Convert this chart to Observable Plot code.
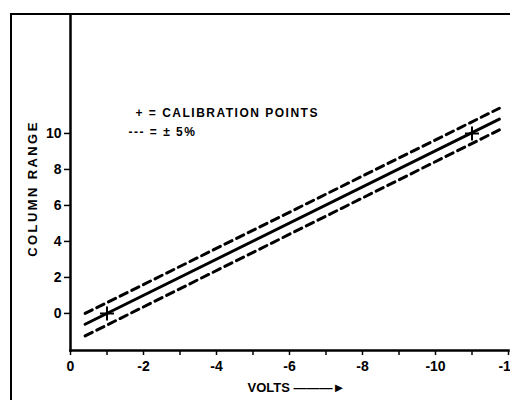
<!DOCTYPE html>
<html>
<head>
<meta charset="utf-8">
<script src="https://cdn.jsdelivr.net/npm/d3@7"></script>
<script src="https://cdn.jsdelivr.net/npm/@observablehq/plot@0.6"></script>
<style>
  html, body { margin: 0; padding: 0; background: white; }
  #wrap { position: relative; width: 510px; height: 400px; overflow: hidden; background: white; }
  #border { position: absolute; left: 10px; top: 13px; width: 600px; height: 500px;
            border-left: 2px solid black; border-top: 2.5px solid black; pointer-events: none; }
  #wrap svg { position: absolute; left: 0; top: 0; }
</style>
</head>
<body>
<div id="wrap"><div id="border"></div></div>
<script>
// Data
const volts = [-0.4, -11.75];          // x extent of the lines
const column = [-0.6, 10.8];           // nominal calibration line
const upper = [0.0, 11.4];             // +5% band
const lower = [-1.25, 10.2];           // -5% band
const calVolts = [-1, -11];            // calibration points
const calColumn = [0, 10];
const xTicks = [0, -1, -2, -3, -4, -5, -6, -7, -8, -9, -10, -11, -12];
const yTicks = [0, 2, 4, 6, 8, 10];
const legendCal = "+ = CALIBRATION POINTS";
const legendBand = "--- = ± 5%";
const yLabel = "COLUMN RANGE";
const xLabel = "VOLTS ———►";

const solid = volts.map((v, i) => ({v, c: column[i]}));
const up = volts.map((v, i) => ({v, c: upper[i]}));
const lo = volts.map((v, i) => ({v, c: lower[i]}));
const cal = calVolts.map((v, i) => ({v, c: calColumn[i]}));

const plusSymbol = {
  draw(context, size) {
    const r = Math.sqrt(size / Math.PI);
    context.moveTo(-r, 0); context.lineTo(r, 0);
    context.moveTo(0, -r); context.lineTo(0, r);
  }
};

const fmt = d => (d % 2 === 0) ? (d === 0 ? "0" : "-" + Math.abs(d)) : "";

const chart = Plot.plot({
  width: 510,
  height: 400,
  marginLeft: 70,
  marginRight: 2,
  marginTop: 14,
  marginBottom: 50,
  x: {domain: [0, -12]},
  y: {domain: [-2.06, 16.61]},
  style: {fontFamily: "'Liberation Sans', Arial, sans-serif", fontSize: "14px", fontWeight: "bold", color: "black", background: "transparent", overflow: "visible"},
  marks: [
    Plot.frame({anchor: "left", strokeWidth: 2.5}),
    Plot.frame({anchor: "bottom", strokeWidth: 2.5}),
    Plot.axisX({ticks: xTicks, tickSize: 5, tickPadding: 6, tickFormat: fmt, label: null, strokeWidth: 1.5}),
    Plot.axisY({ticks: yTicks, tickSize: 6, tickPadding: 3, tickFormat: d => String(d), label: null, strokeWidth: 1.5}),
    Plot.line(solid, {x: "v", y: "c", stroke: "black", strokeWidth: 3}),
    Plot.line(up, {x: "v", y: "c", stroke: "black", strokeWidth: 3, strokeDasharray: "8,5"}),
    Plot.line(lo, {x: "v", y: "c", stroke: "black", strokeWidth: 3, strokeDasharray: "8,5"}),
    Plot.dot(cal, {x: "v", y: "c", symbol: plusSymbol, r: 7, stroke: "black", strokeWidth: 2}),
    Plot.text([legendCal], {frameAnchor: "top-left", dx: 65, dy: 99, textAnchor: "start", lineAnchor: "middle", fontSize: 12, fontWeight: "bold"}),
    Plot.text([legendBand], {frameAnchor: "top-left", dx: 58, dy: 118, textAnchor: "start", lineAnchor: "middle", fontSize: 12, fontWeight: "bold"}),
    Plot.text([yLabel], {frameAnchor: "left", rotate: -90, dx: -38, dy: 6, textAnchor: "middle", lineAnchor: "middle", fontSize: 13, fontWeight: "bold"}),
    Plot.text([xLabel], {frameAnchor: "bottom", dx: -42, dy: 37, textAnchor: "start", lineAnchor: "middle", fontSize: 13, fontWeight: "bold"})
  ]
});
// letter spacing to match the wide lettering of the original
const spacing = new Map([[legendCal, "1.5px"], [legendBand, "1.5px"], [yLabel, "2.4px"]]);
d3.select(chart).selectAll("text").each(function() {
  const s = spacing.get(this.textContent);
  if (s) this.style.letterSpacing = s;
});
document.getElementById("wrap").appendChild(chart);
</script>
</body>
</html>
